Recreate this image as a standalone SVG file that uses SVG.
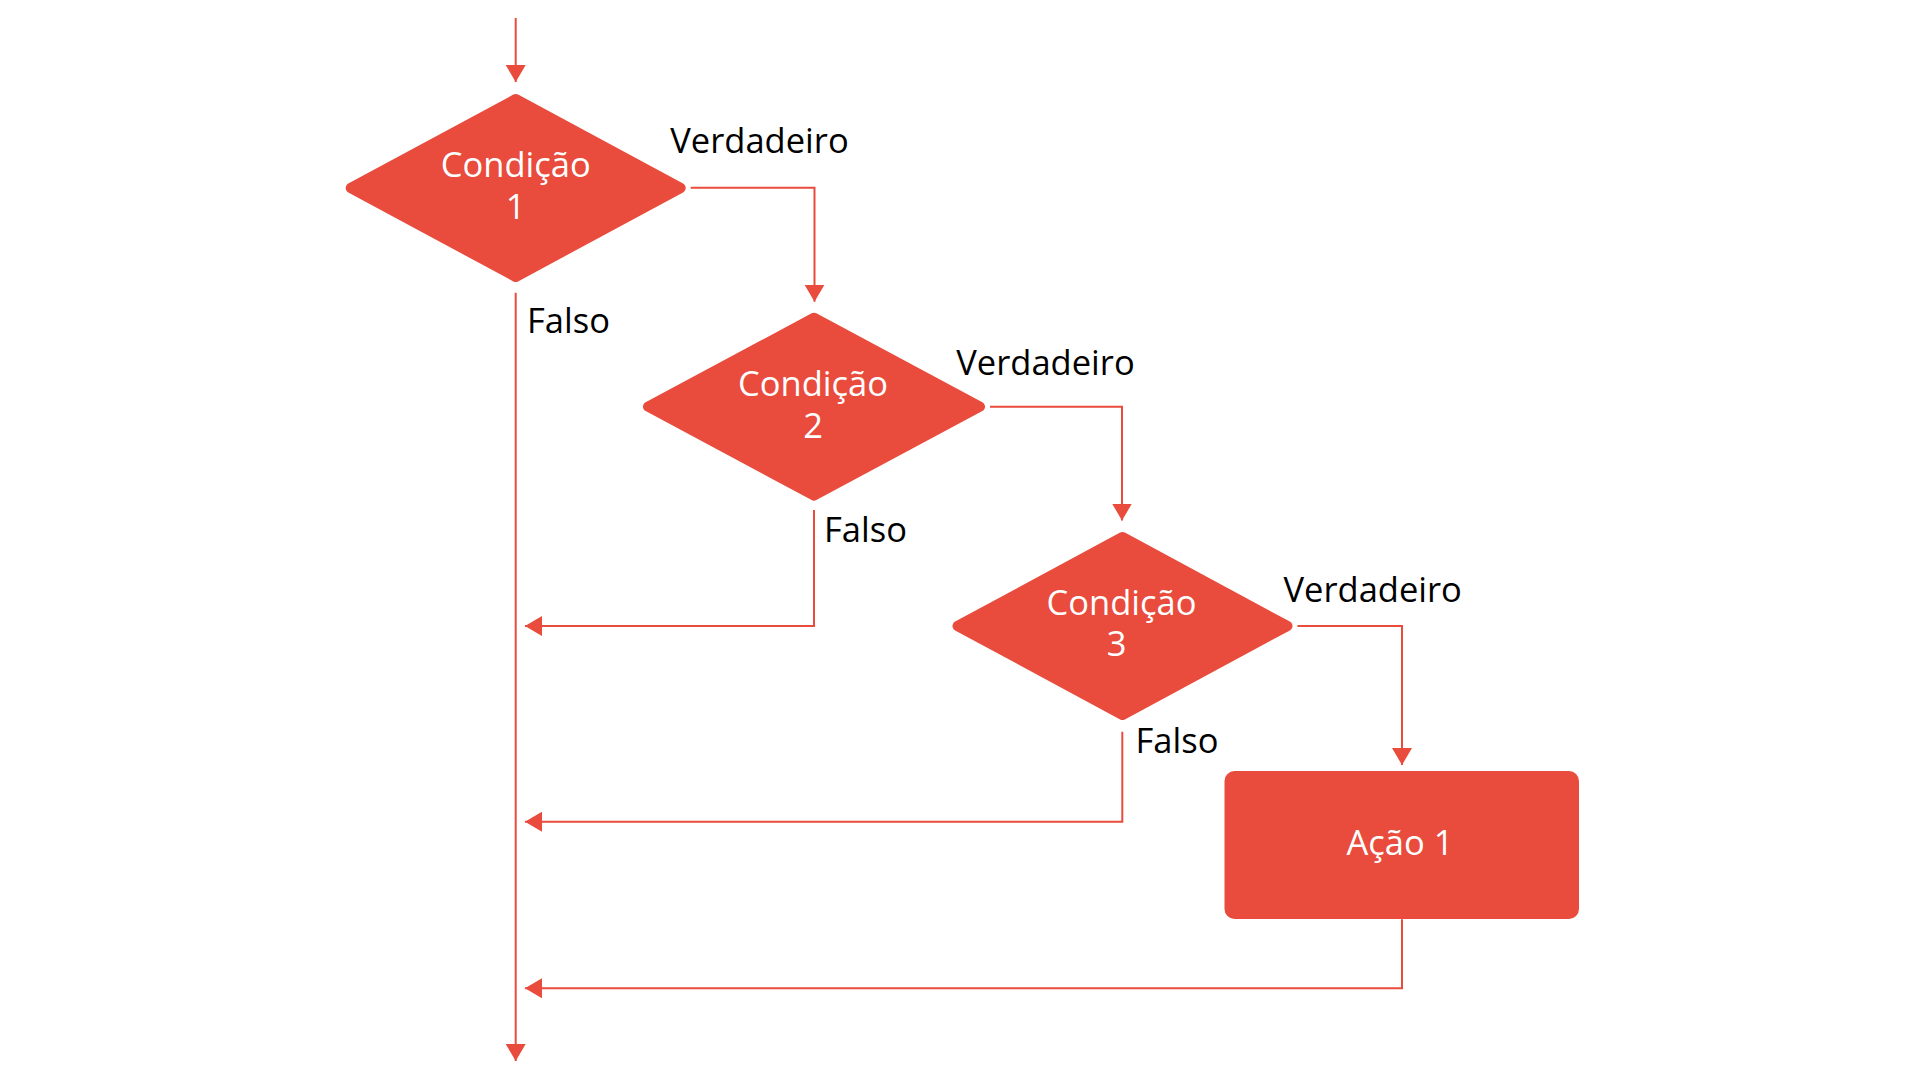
<svg xmlns="http://www.w3.org/2000/svg" width="1920" height="1080" viewBox="0 0 1920 1080">
<style>
.shape{fill:#E94B3C;stroke:#E94B3C;stroke-width:10;stroke-linejoin:round}
.conn{fill:none;stroke:#E94B3C;stroke-width:2}
.in{font-family:"Open Sans","Liberation Sans",sans-serif;font-size:34.5px;fill:#FFFFFF;text-anchor:middle}
.lbl{font-family:"Open Sans","Liberation Sans",sans-serif;font-size:34.5px;fill:#000000}
</style>
<defs>
<marker id="arr" markerUnits="userSpaceOnUse" markerWidth="18" markerHeight="20" viewBox="0 0 18 20" refX="17" refY="10" orient="auto">
<path d="M0,0 L17,10 L0,20 Z" fill="#E94B3C"/>
</marker>
</defs>
<rect width="1920" height="1080" fill="#FFFFFF"/>
<g id="connectors">
<path class="conn" d="M515.7,18 V82" marker-end="url(#arr)"/>
<path class="conn" d="M690.7,187.7 H814.5 V301.7" marker-end="url(#arr)"/>
<path class="conn" d="M515.7,292.7 V1061" marker-end="url(#arr)"/>
<path class="conn" d="M990,406.7 H1122 V520.5" marker-end="url(#arr)"/>
<path class="conn" d="M814,510 V626 H525" marker-end="url(#arr)"/>
<path class="conn" d="M1297.5,626 H1402 V765" marker-end="url(#arr)"/>
<path class="conn" d="M1122.3,731.7 V821.7 H525" marker-end="url(#arr)"/>
<path class="conn" d="M1402,919.3 V988.3 H525" marker-end="url(#arr)"/>
</g>
<g id="labels">
<text class="lbl" x="670.3" y="152.7">Verdadeiro</text>
<text class="lbl" x="527" y="333">Falso</text>
<text class="lbl" x="956.3" y="375">Verdadeiro</text>
<text class="lbl" x="824" y="542.3">Falso</text>
<text class="lbl" x="1283.5" y="601.7">Verdadeiro</text>
<text class="lbl" x="1135.5" y="752.7">Falso</text>
</g>
<g id="cond1">
<polygon class="shape" points="350.7,188 515.7,99 680.7,188 515.7,277"/>
<text class="in" x="515.7" y="177">Condição</text>
<text class="in" x="515.7" y="218.5">1</text>
</g>
<g id="cond2">
<polygon class="shape" points="648,406.7 814,317.7 980,406.7 814,495.7"/>
<text class="in" x="813" y="396">Condição</text>
<text class="in" x="813" y="437.5">2</text>
</g>
<g id="cond3">
<polygon class="shape" points="957.5,626 1122.5,537 1287.5,626 1122.5,715"/>
<text class="in" x="1121.5" y="615">Condição</text>
<text class="in" x="1116.5" y="656">3</text>
</g>
<g id="acao1">
<rect class="shape" x="1229.5" y="776" width="344.5" height="138" rx="5"/>
<text class="in" x="1400" y="855">Ação 1</text>
</g>
</svg>
